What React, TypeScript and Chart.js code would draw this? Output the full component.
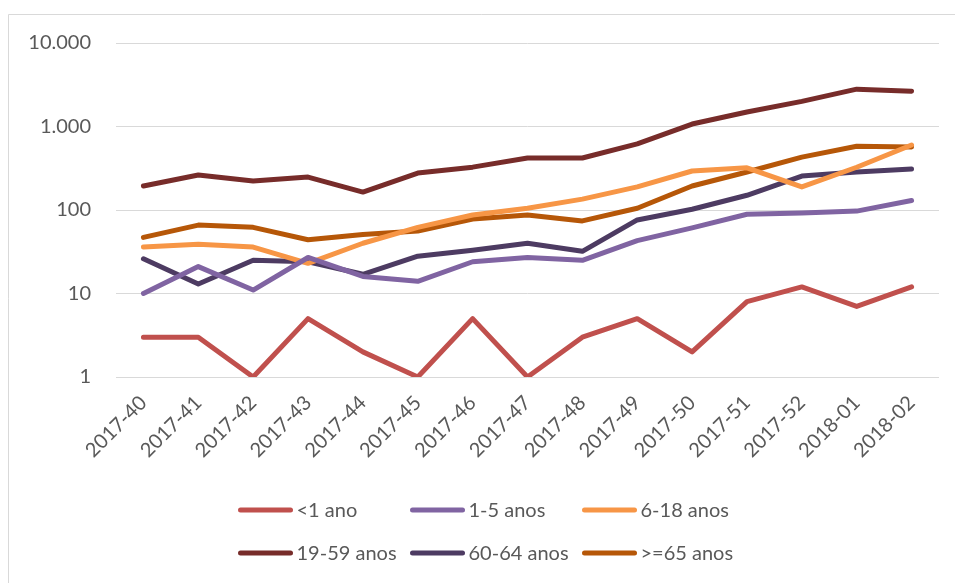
import React, { useEffect, useRef } from "react";
import { Chart, registerables } from "chart.js";

Chart.register(...registerables);

const weeks = ["2017-40","2017-41","2017-42","2017-43","2017-44","2017-45","2017-46","2017-47","2017-48","2017-49","2017-50","2017-51","2017-52","2018-01","2018-02"];
const under1 = [3, 3, 1, 5, 2, 1, 5, 1, 3, 5, 2, 8, 12, 7, 12];
const age1to5 = [10, 21, 11, 27, 16, 14, 24, 27, 25, 43, 61, 89, 92, 97, 130];
const age6to18 = [36, 39, 36, 23, 40, 62, 87, 105, 135, 189, 293, 320, 189, 325, 600];
const age19to59 = [194, 262, 222, 248, 164, 277, 326, 420, 420, 620, 1070, 1490, 2000, 2800, 2650];
const age60to64 = [26, 13, 25, 24, 17, 28, 33, 40, 32, 76, 102, 150, 255, 285, 310];
const age65plus = [47, 66, 62, 44, 51, 56, 78, 87, 74, 105, 194, 285, 430, 580, 570];
const yTicks = [1, 10, 100, 1000, 10000];

const seriesNames = ["<1 ano", "1-5 anos", "6-18 anos", "19-59 anos", "60-64 anos", ">=65 anos"];
const seriesColors = ["#C0504D", "#8064A2", "#F79646", "#772C2A", "#4D3B62", "#B65708"];
const seriesData = [under1, age1to5, age6to18, age19to59, age60to64, age65plus];

const FONT = "Lato, 'Open Sans', sans-serif";
const TEXT = "#595959";

const framePlugin = {
  id: "frame",
  beforeDraw(chart: any) {
    const ctx = chart.ctx;
    ctx.save();
    ctx.fillStyle = "#ffffff";
    ctx.fillRect(0, 0, chart.width, chart.height);
    ctx.strokeStyle = "#d9d9d9";
    ctx.lineWidth = 1;
    ctx.beginPath();
    ctx.moveTo(8.5, chart.height);
    ctx.lineTo(8.5, 14.5);
    ctx.lineTo(chart.width, 14.5);
    ctx.stroke();
    ctx.restore();
  },
};

const legendPlugin = {
  id: "gridLegend",
  afterDraw(chart: any) {
    const ctx = chart.ctx;
    const startX = chart.width / 2 - 239;
    ctx.save();
    ctx.font = `20px ${FONT}`;
    ctx.textBaseline = "middle";
    ctx.textAlign = "left";
    chart.data.datasets.forEach((ds: any, i: number) => {
      const col = i % 3;
      const row = Math.floor(i / 3);
      const x = startX + col * 172;
      const y = 510 + row * 43;
      ctx.strokeStyle = ds.borderColor;
      ctx.lineWidth = 5;
      ctx.lineCap = "round";
      ctx.beginPath();
      ctx.moveTo(x + 2, y);
      ctx.lineTo(x + 52, y);
      ctx.stroke();
      ctx.fillStyle = TEXT;
      ctx.fillText(ds.label, x + 58, y + 1);
    });
    ctx.restore();
  },
};

export default function App() {
  const ref = useRef<HTMLCanvasElement>(null);
  useEffect(() => {
    if (!ref.current) return;
    const chart = new Chart(ref.current, {
      type: "line",
      data: {
        labels: weeks,
        datasets: seriesNames.map((name, i) => ({
          label: name,
          data: seriesData[i],
          borderColor: seriesColors[i],
          backgroundColor: seriesColors[i],
          borderWidth: 5,
          pointRadius: 0,
          borderCapStyle: "round",
          borderJoinStyle: "round",
          tension: 0,
        })),
      },
      options: {
        responsive: false,
        animation: false,
        layout: { padding: { left: 0, top: 43, right: 16, bottom: 106 } },
        plugins: { legend: { display: false }, tooltip: { enabled: false } },
        scales: {
          x: {
            offset: true,
            grid: { display: false },
            border: { display: false },
            ticks: {
              color: TEXT,
              font: { family: FONT, size: 20 },
              minRotation: 45,
              maxRotation: 45,
              autoSkip: false,
              padding: 6,
            },
            afterFit(scale: any) {
              scale.height = 100;
            },
          },
          y: {
            type: "logarithmic",
            min: 1,
            max: 10000,
            border: { display: false },
            grid: { color: "#d9d9d9", lineWidth: 1, drawTicks: false },
            ticks: {
              color: TEXT,
              font: { family: FONT, size: 20 },
              padding: 25,
              callback: (v: any) => Number(v).toLocaleString("pt-BR"),
            },
            afterBuildTicks(scale: any) {
              scale.ticks = yTicks.map((v) => ({ value: v }));
            },
            afterFit(scale: any) {
              scale.width = 116;
            },
          },
        },
      },
      plugins: [framePlugin, legendPlugin],
    });
    return () => chart.destroy();
  }, []);
  return (
    <div style={{ position: "fixed", left: 0, top: 0, width: 955, height: 583 }}>
      <canvas ref={ref} width={955} height={583} style={{ display: "block" }} />
    </div>
  );
}
